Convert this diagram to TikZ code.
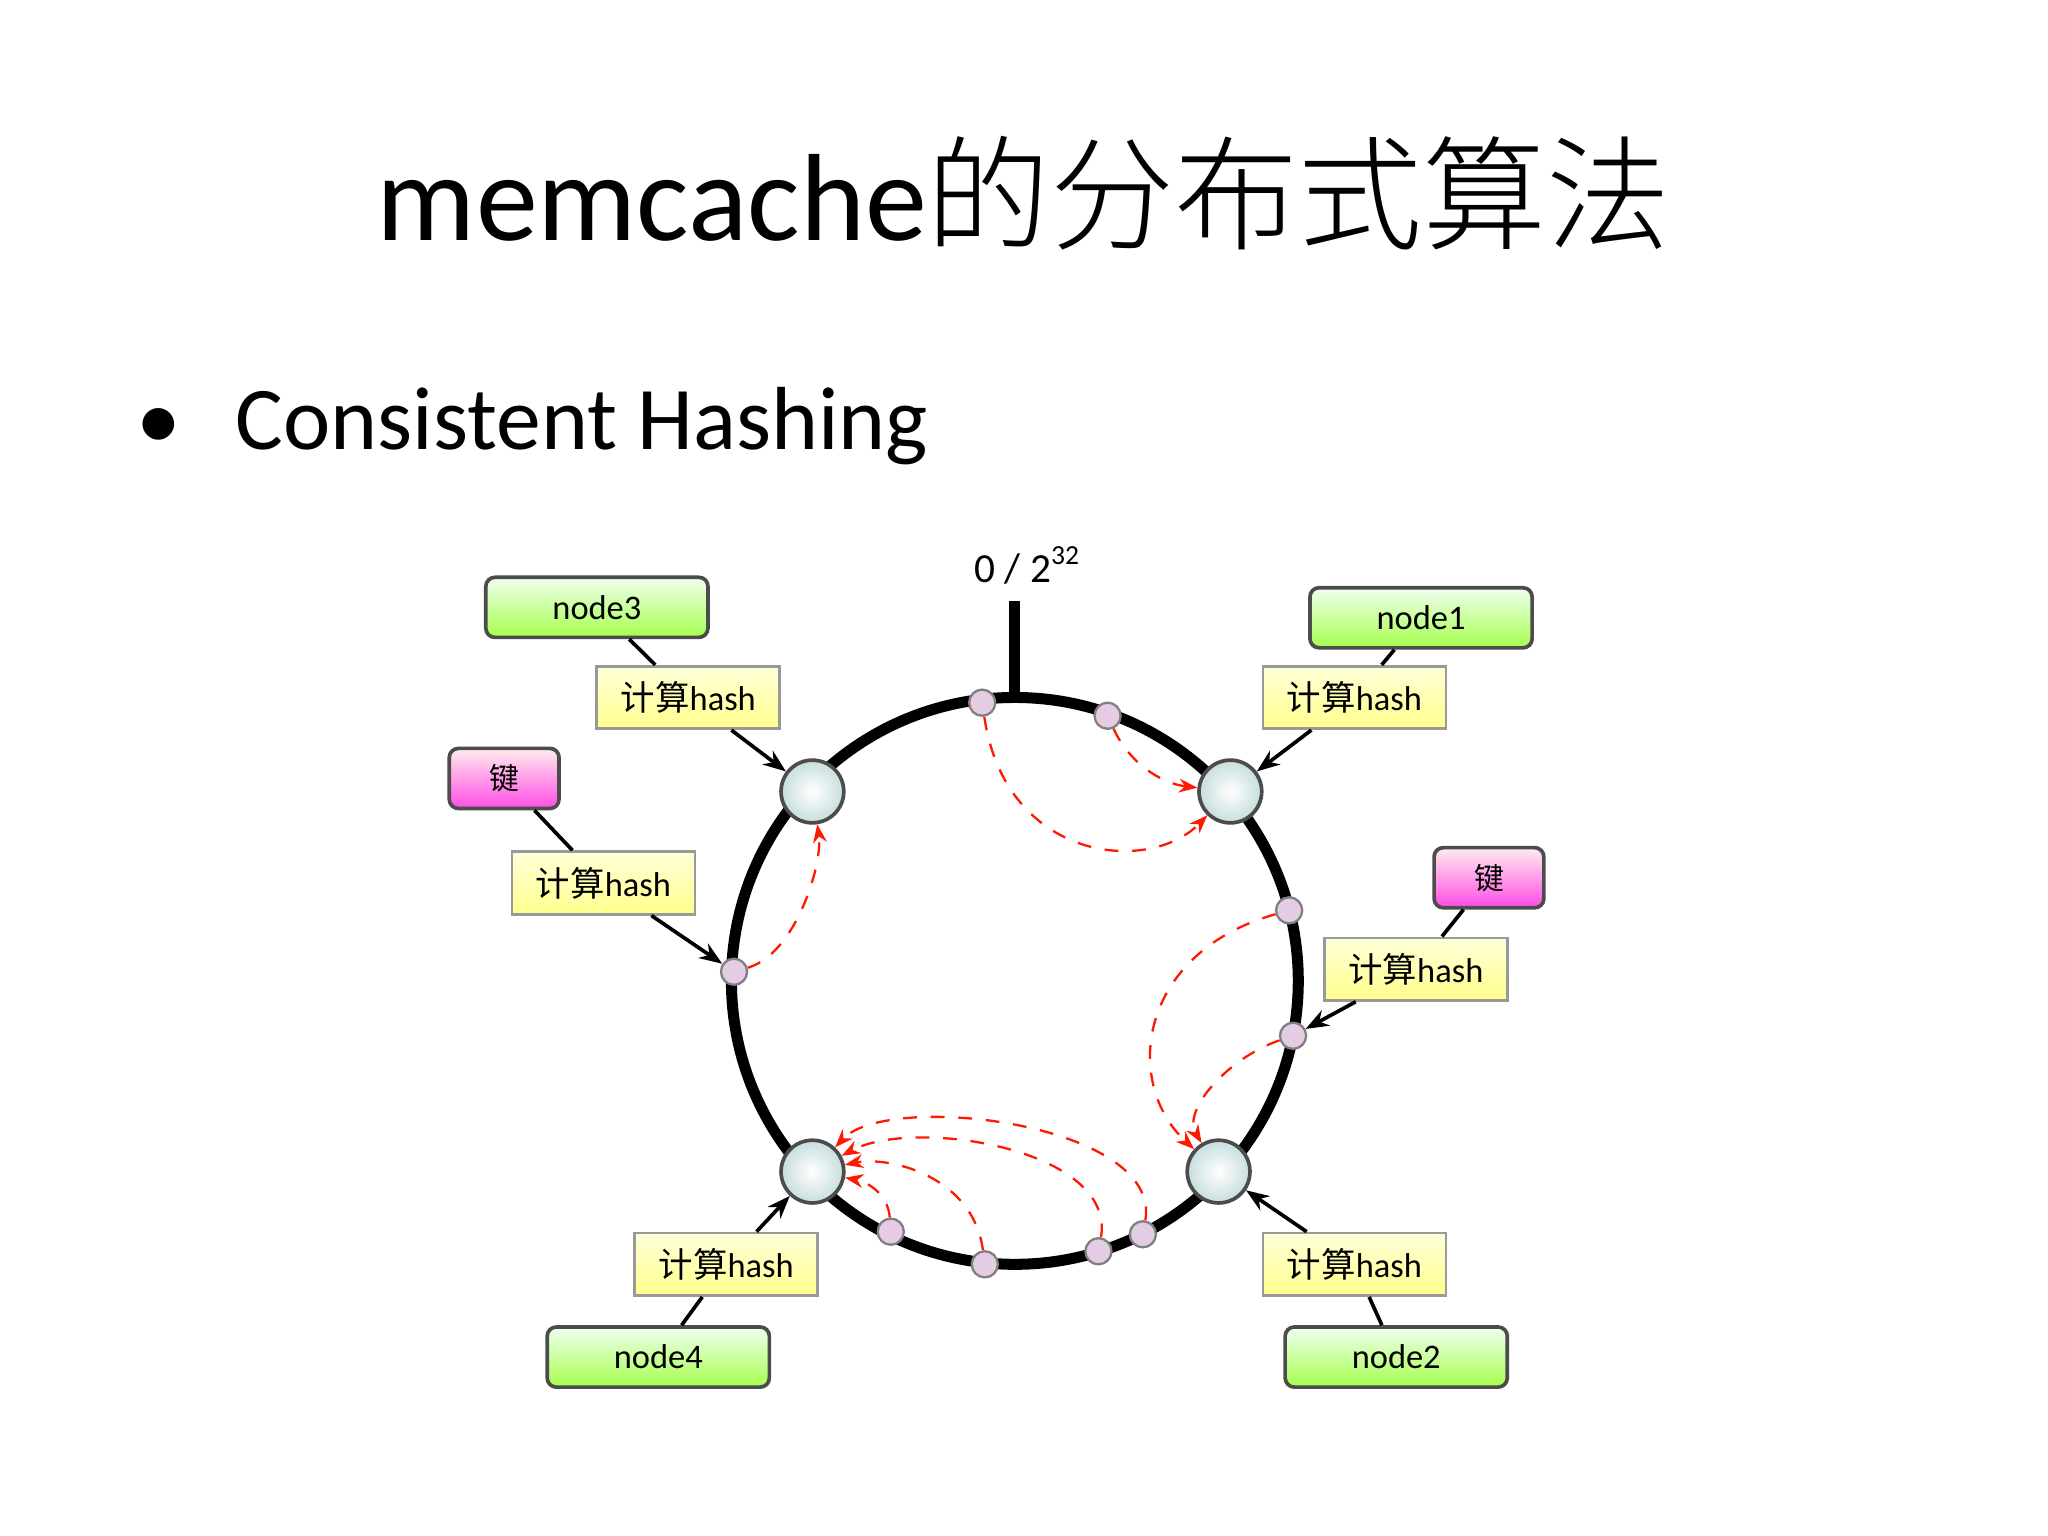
\documentclass[tikz,border=0pt]{standalone}
\usepackage{fontspec}
\setmainfont{Carlito}
\newfontfamily\cjk{Noto Sans CJK SC}
\newfontfamily\cjkl{Noto Sans CJK SC Light}
\usetikzlibrary{arrows.meta}
\begin{document}
\begin{tikzpicture}[x=0.01cm,y=-0.01cm,
 gbox/.style={draw=black!70,line width=0.8pt,rounded corners=2pt,top color=white!80!green!30,bottom color=green!50!yellow!70,minimum width=1.7cm,minimum height=0.46cm,font=\fontsize{7.5}{9}\selectfont},
 ybox/.style={draw=black!40,line width=0.6pt,top color=yellow!15,bottom color=yellow!45,minimum width=1.4cm,minimum height=0.38cm,font=\fontsize{7.5}{9}\selectfont},
 pbox/.style={draw=black!70,line width=0.8pt,rounded corners=2pt,top color=pink!30,bottom color=magenta!60!pink,minimum width=0.84cm,minimum height=0.46cm,font=\cjk\fontsize{6.5}{8}\selectfont},
 bnode/.style={circle,draw=black!70,line width=0.8pt,inner color=white,outer color=cyan!25!gray!35,minimum size=0.48cm,inner sep=0},
 dot/.style={circle,draw=gray,line width=0.5pt,fill=violet!20,minimum size=0.2cm,inner sep=0},
 conn/.style={line width=0.8pt},
 arr/.style={line width=0.8pt,-{Stealth[length=5pt]}},
 red/.style={draw=red!80!orange,dashed,line width=0.5pt,-{Stealth[length=4pt]}}]
\useasboundingbox[fill=white] (0,0) rectangle (1568,1176);
\node at (784,148) {\fontsize{27}{32}\selectfont memcache{\cjkl 的分布式算法}};
\node[anchor=west] at (92,326) {\fontsize{19.5}{24}\selectfont •\hspace{0.42cm}Consistent Hashing};
\coordinate (C) at (777,751);
\draw[line width=2.4pt] (C) circle (217);
\coordinate (t) at (777,460);
\coordinate (tb) at (777,536);
\draw[line width=2.4pt] (t) -- (tb);
\node at (787,433) {\fontsize{9}{10}\selectfont 0 / 2\textsuperscript{32}};
\node[bnode] (n3) at (622,606) {};
\node[bnode] (n1) at (942,606) {};
\node[bnode] (n4) at (622,897) {};
\node[bnode] (n2) at (933,897) {};
\node[dot] (d1) at (752,538) {};
\node[dot] (d2) at (848,548) {};
\node[dot] (d3) at (987,697) {};
\node[dot] (d4) at (990,793) {};
\node[dot] (d5) at (562,744) {};
\node[dot] (d6) at (682,943) {};
\node[dot] (d7) at (754,968) {};
\node[dot] (d8) at (841,958) {};
\node[dot] (d9) at (875,945) {};
\node[gbox] (g3) at (457,465) {node3};
\node[ybox] (h3) at (527,534) {{\cjk 计算}hash};
\node[gbox] (g1) at (1088,473) {node1};
\node[ybox] (h1) at (1037,534) {{\cjk 计算}hash};
\node[pbox] (k1) at (386,596) {键};
\node[ybox] (hk1) at (462,676) {{\cjk 计算}hash};
\node[pbox] (k2) at (1140,672) {键};
\node[ybox] (hk2) at (1084,742) {{\cjk 计算}hash};
\node[ybox] (h4) at (556,968) {{\cjk 计算}hash};
\node[gbox] (g4) at (504,1039) {node4};
\node[ybox] (h2) at (1037,968) {{\cjk 计算}hash};
\node[gbox] (g2) at (1069,1039) {node2};
\draw[conn] (g3) -- (h3);
\draw[arr] (h3) -- (n3);
\draw[conn] (g1) -- (h1);
\draw[arr] (h1) -- (n1);
\draw[conn] (k1) -- (hk1);
\draw[arr] (hk1) -- (d5);
\draw[conn] (k2) -- (hk2);
\draw[arr] (hk2) -- (d4);
\draw[conn] (g4) -- (h4);
\draw[arr] (h4) -- (n4);
\draw[conn] (g2) -- (h2);
\draw[arr] (h2) -- (n2);
\draw[red] (d1) .. controls (770,660) and (880,670) .. (n1);
\draw[red] (d2) .. controls (865,585) and (890,600) .. (n1);
\draw[red] (d5) .. controls (610,730) and (630,660) .. (n3);
\draw[red] (d3) .. controls (870,730) and (860,830) .. (n2);
\draw[red] (d4) .. controls (940,810) and (905,850) .. (n2);
\draw[red] (d6) .. controls (680,915) and (665,905) .. (n4);
\draw[red] (d7) .. controls (745,900) and (680,885) .. (n4);
\draw[red] (d8) .. controls (855,880) and (700,855) .. (n4);
\draw[red] (d9) .. controls (890,860) and (680,835) .. (n4);
\end{tikzpicture}
\end{document}
